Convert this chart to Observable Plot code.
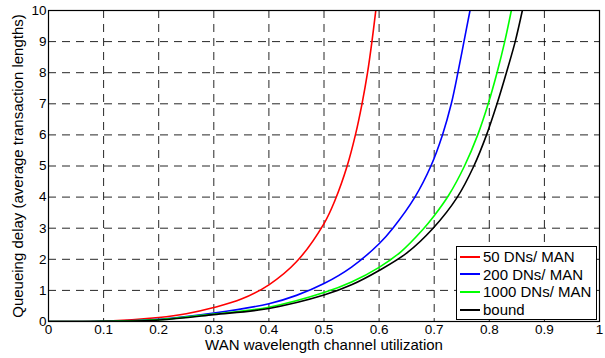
<!DOCTYPE html>
<html>
<head>
<meta charset="utf-8">
<script src="https://cdn.jsdelivr.net/npm/d3@7"></script>
<script src="https://cdn.jsdelivr.net/npm/@observablehq/plot@0.6"></script>
<style>
  html, body { margin: 0; padding: 0; background: #fff; }
  #wrap { position: relative; width: 605px; height: 358px; font-family: "Liberation Sans", Arial, sans-serif; }
  #legend { position: absolute; left: 456px; top: 246px; width: 139px; height: 71px; border: 1px solid #000; background: #fff; padding-top: 1px; }
  .row { display: flex; align-items: center; height: 17.6px; font-size: 15px; color: #000; }
  .sw { width: 20px; height: 0; border-top: 2px solid; margin-left: 3px; margin-right: 3px; }
</style>
</head>
<body>
<div id="wrap"></div>
<script>
// Series names
const seriesNames = ["50 DNs/ MAN", "200 DNs/ MAN", "1000 DNs/ MAN", "bound"];
const seriesColors = ["#ff0000", "#0000ff", "#00ff00", "#000000"];

// 50 DNs/MAN
const xRed = [0, 0.1, 0.2, 0.25, 0.3, 0.35, 0.4, 0.45, 0.5, 0.52, 0.542, 0.557, 0.569, 0.579, 0.587, 0.594];
const yRed = [0, 0.01, 0.13, 0.25, 0.45, 0.72, 1.18, 1.92, 3.15, 3.9, 5.0, 6.0, 7.0, 8.0, 9.0, 10];
// 200 DNs/MAN
const xBlue = [0, 0.1, 0.2, 0.3, 0.4, 0.45, 0.5, 0.55, 0.6, 0.625, 0.665, 0.694, 0.715, 0.731, 0.743, 0.754, 0.765];
const yBlue = [0, 0.005, 0.07, 0.27, 0.57, 0.84, 1.22, 1.75, 2.5, 3.0, 4.0, 5.0, 6.0, 7.0, 8.0, 9.0, 10];
// 1000 DNs/MAN
const xGreen = [0, 0.1, 0.2, 0.3, 0.4, 0.5, 0.55, 0.6, 0.64, 0.679, 0.7, 0.726, 0.755, 0.779, 0.798, 0.814, 0.828, 0.84];
const yGreen = [0, 0.004, 0.06, 0.24, 0.46, 0.93, 1.27, 1.74, 2.25, 2.95, 3.4, 4.05, 5.0, 6.0, 7.0, 8.0, 9.0, 10];
// bound
const xBound = [0, 0.1, 0.2, 0.3, 0.4, 0.5, 0.55, 0.6, 0.65, 0.698, 0.742, 0.772, 0.795, 0.814, 0.831, 0.847, 0.86];
const yBound = [0, 0.003, 0.05, 0.22, 0.42, 0.85, 1.18, 1.64, 2.2, 3.0, 4.0, 5.0, 6.0, 7.0, 8.0, 9.0, 10];

// Tick values
const xTicks = [0, 0.1, 0.2, 0.3, 0.4, 0.5, 0.6, 0.7, 0.8, 0.9, 1];
const xTickLabels = ["0", "0.1", "0.2", "0.3", "0.4", "0.5", "0.6", "0.7", "0.8", "0.9", "1"];
const yTicks = [0, 1, 2, 3, 4, 5, 6, 7, 8, 9, 10];

const xLabel = "WAN wavelength channel utilization";
const yLabel = "Queueing delay (average transaction lengths)";

const seriesX = [xRed, xBlue, xGreen, xBound];
const seriesY = [yRed, yBlue, yGreen, yBound];
const data = [];
seriesNames.forEach((name, i) => {
  seriesX[i].forEach((x, j) => data.push({series: name, x, y: seriesY[i][j]}));
});

const chart = Plot.plot({
  width: 605,
  height: 358,
  marginLeft: 48,
  marginRight: 6,
  marginTop: 10,
  marginBottom: 37,
  style: {fontFamily: "'Liberation Sans', Arial, sans-serif", fontSize: "13.5px", color: "#000", background: "#fff"},
  x: {domain: [0, 1]},
  y: {domain: [0, 10]},
  color: {domain: seriesNames, range: seriesColors},
  marks: [
    Plot.gridX(xTicks, {stroke: "#000", strokeOpacity: 0.85, strokeDasharray: "8,6"}),
    Plot.gridY(yTicks, {stroke: "#000", strokeOpacity: 0.85, strokeDasharray: "8,6"}),
    Plot.line(data, {x: "x", y: "y", z: "series", stroke: "series", strokeWidth: 1.6, curve: "catmull-rom", clip: true}),
    Plot.axisX({ticks: xTicks, tickFormat: (d, i) => xTickLabels[i], tickSize: 0, tickPadding: 3, fontSize: 13.5, label: null}),
    Plot.axisY({ticks: yTicks, tickSize: 0, tickPadding: 2, fontSize: 13.5, label: null}),
    Plot.text([xLabel], {frameAnchor: "bottom", dy: 28.5, fontSize: 15, textAnchor: "middle", text: d => d}),
    Plot.text([yLabel], {frameAnchor: "left", dx: -30, rotate: -90, fontSize: 15, textAnchor: "middle", text: d => d}),
    Plot.frame({stroke: "#000", strokeWidth: 1.2})
  ]
});
const wrap = document.getElementById("wrap");
wrap.appendChild(chart);

const legend = document.createElement("div");
legend.id = "legend";
seriesNames.forEach((name, i) => {
  const row = document.createElement("div");
  row.className = "row";
  const sw = document.createElement("span");
  sw.className = "sw";
  sw.style.borderTopColor = seriesColors[i];
  const t = document.createElement("span");
  t.textContent = name;
  row.appendChild(sw);
  row.appendChild(t);
  legend.appendChild(row);
});
wrap.appendChild(legend);
</script>
</body>
</html>
